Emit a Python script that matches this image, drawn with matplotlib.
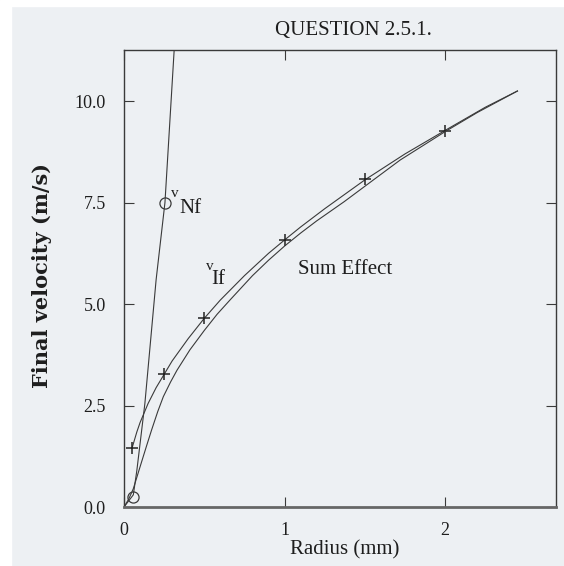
import matplotlib
matplotlib.use('Agg')
import matplotlib.pyplot as plt
from matplotlib.patches import Rectangle

# radius (mm) / final velocity (m/s)
r_nf = [0.0, 0.058, 0.08, 0.13, 0.2, 0.255, 0.313]
v_nf = [0.0, 0.3, 0.9, 2.55, 5.6, 7.5, 11.3]
r_nf_marks = [0.055, 0.255]
v_nf_marks = [0.25, 7.5]

r_if = [0.05, 0.08, 0.1, 0.15, 0.2, 0.25, 0.3, 0.4, 0.5, 0.6, 0.75, 0.9, 1.0, 1.1, 1.25,
        1.5, 1.75, 2.0, 2.25, 2.45]
v_if = [1.45, 1.85, 2.08, 2.55, 2.94, 3.27, 3.6, 4.15, 4.65, 5.1, 5.7, 6.25, 6.58, 6.9, 7.35,
        8.06, 8.7, 9.28, 9.85, 10.25]
r_if_marks = [0.05, 0.25, 0.5, 1.0, 1.5, 2.0]
v_if_marks = [1.45, 3.27, 4.65, 6.58, 8.08, 9.27]

r_sum = [0.0, 0.03, 0.058, 0.1, 0.14, 0.172, 0.21, 0.245, 0.29, 0.33, 0.41, 0.5, 0.58, 0.66,
         0.8, 0.9, 1.0, 1.1, 1.2, 1.37, 1.55, 1.72, 2.0, 2.2, 2.45]
v_sum = [0.0, 0.2, 0.45, 0.99, 1.5, 1.9, 2.35, 2.72, 3.08, 3.37, 3.87, 4.35, 4.75, 5.1,
         5.7, 6.08, 6.43, 6.75, 7.05, 7.52, 8.05, 8.55, 9.25, 9.72, 10.25]

y_ticks = [0.0, 2.5, 5.0, 7.5, 10.0]
y_ticklabels = ['0.0', '2.5', '5.0', '7.5', '10.0']
x_ticks = [0, 1, 2]
x_ticklabels = ['0', '1', '2']

BG = '#edf0f3'
INK = '#3a3a3a'
TXT = '#1e1e1e'
SERIF = 'Liberation Serif'

fig = plt.figure(figsize=(5.64, 5.66), dpi=100, facecolor=BG)
fig.patches.append(Rectangle((0, 0), 11 / 564, 1, transform=fig.transFigure, color='white', zorder=0))
fig.patches.append(Rectangle((0, 1 - 6 / 566), 1, 6 / 566, transform=fig.transFigure, color='white', zorder=0))

ax = fig.add_axes([124 / 564, 1 - 507 / 566, 432 / 564, 457 / 566])
ax.set_facecolor(BG)

ax.plot(r_nf, v_nf, color=INK, lw=0.8)
ax.plot(r_nf_marks, v_nf_marks, ls='none', marker='o', ms=8, mfc='none', mec=INK, mew=0.9)
ax.plot(r_if, v_if, color=INK, lw=0.8)
ax.plot(r_if_marks, v_if_marks, ls='none', marker='+', ms=9, mec='#222222', mew=1.1)
ax.plot(r_sum, v_sum, color=INK, lw=0.8)

ax.set_xlim(0, 2.69)
ax.set_ylim(0, 11.26)
ax.set_xticks(x_ticks)
ax.set_xticklabels(x_ticklabels)
ax.set_yticks(y_ticks)
ax.set_yticklabels(y_ticklabels)
ax.tick_params(direction='in', length=7, width=0.8, top=True, right=True, colors=INK,
               labelcolor=TXT, labelsize=13)
ax.tick_params(axis='y', pad=13)
ax.tick_params(axis='x', pad=11)
for lab in ax.get_xticklabels() + ax.get_yticklabels():
    lab.set_family(SERIF)
for side in ['left', 'right', 'top']:
    ax.spines[side].set_color(INK)
    ax.spines[side].set_linewidth(1.0)
ax.spines['bottom'].set_color('#666666')
ax.spines['bottom'].set_linewidth(2.0)

# curve labels
ax.text(0.293, 7.64, 'v', family=SERIF, fontsize=11, color=TXT, va='baseline')
ax.text(0.345, 7.25, 'Nf', family=SERIF, fontsize=15, color=TXT, va='baseline')
ax.text(0.511, 5.85, 'v', family=SERIF, fontsize=11, color=TXT, va='baseline')
ax.text(0.546, 5.49, 'If', family=SERIF, fontsize=15, color=TXT, va='baseline')
ax.text(1.086, 5.74, 'Sum Effect', family=SERIF, fontsize=15, color=TXT, va='baseline')

fig.text(353 / 564, 1 - 31 / 566, 'QUESTION 2.5.1.', family=SERIF, fontsize=15,
         color=TXT, ha='center', va='center')
fig.text(345 / 564, 1 - 550 / 566, 'Radius (mm)', family=SERIF, fontsize=15,
         color=TXT, ha='center', va='center')
fig.text(42 / 564, 1 - 276 / 566, 'Final velocity (m/s)', family='DejaVu Serif',
         fontweight='bold', fontsize=15, color=TXT, ha='center', va='center', rotation=90)

fig.savefig('out.png', dpi=100, facecolor=BG)
